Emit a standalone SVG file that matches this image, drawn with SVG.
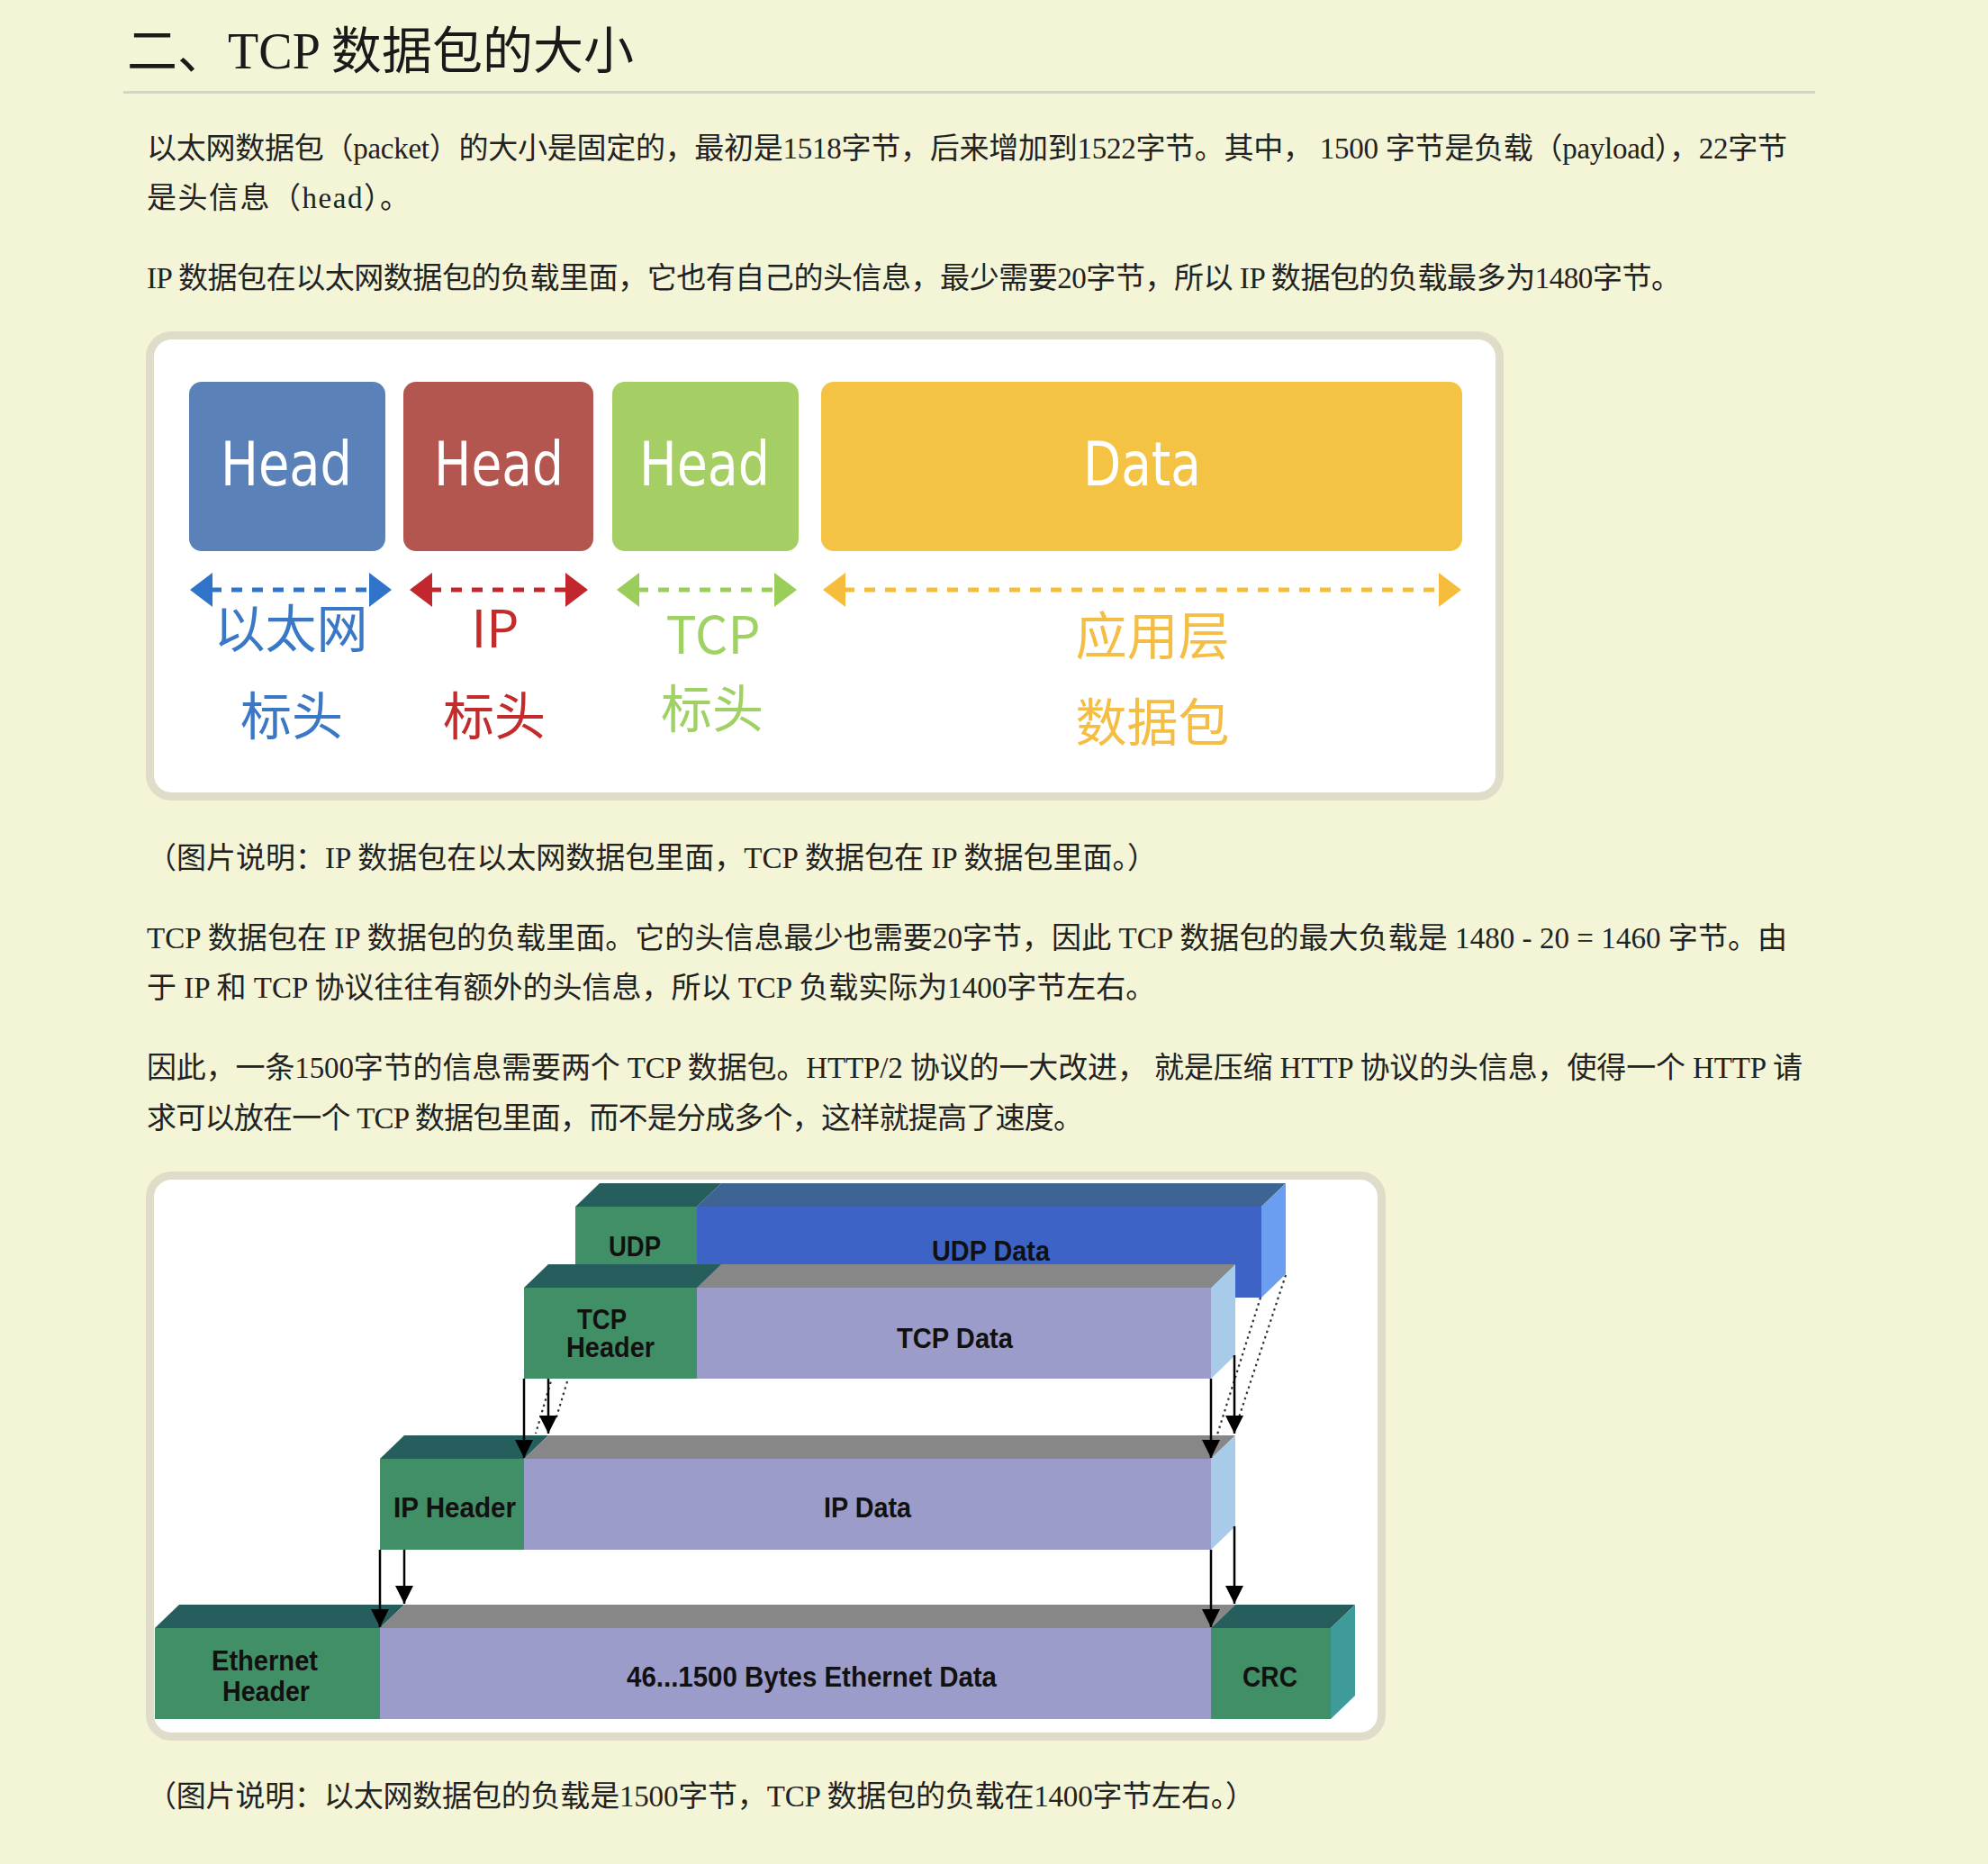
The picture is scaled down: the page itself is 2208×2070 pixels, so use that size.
<svg xmlns="http://www.w3.org/2000/svg" width="2208" height="2070" viewBox="0 0 2208 2070">
<defs>
<style>
.p{font-family:"Liberation Serif","Noto Sans CJK SC",serif;font-size:33px;fill:#222}
.title{font-family:"Liberation Serif","Noto Sans CJK SC",serif;font-size:56px;fill:#1a1a1a}
.hd{font-family:"DejaVu Sans",sans-serif;font-size:68px;fill:#ffffff}
.lb{font-family:"Noto Sans CJK SC",sans-serif;font-size:57px;text-anchor:middle}
.d2{font-family:"Liberation Sans",Arial,sans-serif;font-weight:bold;font-size:31px;fill:#111}
.frame{fill:#ffffff;stroke:#dfddc9;stroke-width:9}
.teal{fill:#265e5e}
.gray{fill:#878787}
.grn{fill:#418f66}
.lav{fill:#9c9ccb}
.side{fill:#a9cbea}
.dot{stroke:#333;stroke-width:2.2;stroke-dasharray:2.5 4;fill:none}
.arr{stroke:#000;stroke-width:2.5;fill:none;marker-end:url(#ah)}
</style>
<marker id="ah" viewBox="0 0 20 20" refX="20" refY="10" markerWidth="20" markerHeight="20" markerUnits="userSpaceOnUse" orient="auto">
<path d="M0,0 L20,10 L0,20 z" fill="#000"/>
</marker>
</defs>
<rect x="0" y="0" width="2208" height="2070" fill="#f4f5d7"/>

<g id="page-text">
<text class="title" x="141" y="76" textLength="563" lengthAdjust="spacing">二、TCP 数据包的大小</text>
<rect x="137" y="101" width="1879" height="3" fill="#d3d3cf"/>
<text class="p" x="163" y="176" textLength="1822" lengthAdjust="spacing">以太网数据包（packet）的大小是固定的，最初是1518字节，后来增加到1522字节。其中， 1500 字节是负载（payload），22字节</text>
<text class="p" x="163" y="231" textLength="292" lengthAdjust="spacing">是头信息（head）。</text>
<text class="p" x="163" y="320" textLength="1704" lengthAdjust="spacing">IP 数据包在以太网数据包的负载里面，它也有自己的头信息，最少需要20字节，所以 IP 数据包的负载最多为1480字节。</text>
<text class="p" x="163" y="964">（图片说明：IP 数据包在以太网数据包里面，TCP 数据包在 IP 数据包里面。）</text>
<text class="p" x="163" y="1053" textLength="1822" lengthAdjust="spacing">TCP 数据包在 IP 数据包的负载里面。它的头信息最少也需要20字节，因此 TCP 数据包的最大负载是 1480 - 20 = 1460 字节。由</text>
<text class="p" x="163" y="1108">于 IP 和 TCP 协议往往有额外的头信息，所以 TCP 负载实际为1400字节左右。</text>
<text class="p" x="163" y="1197" textLength="1839" lengthAdjust="spacing">因此，一条1500字节的信息需要两个 TCP 数据包。HTTP/2 协议的一大改进， 就是压缩 HTTP 协议的头信息，使得一个 HTTP 请</text>
<text class="p" x="163" y="1253" textLength="1040" lengthAdjust="spacing">求可以放在一个 TCP 数据包里面，而不是分成多个，这样就提高了速度。</text>
<text class="p" x="163" y="2006" textLength="1231" lengthAdjust="spacing">（图片说明：以太网数据包的负载是1500字节，TCP 数据包的负载在1400字节左右。）</text>
</g>

<g id="figure1">
<rect class="frame" x="166.5" y="372.5" width="1499" height="512" rx="24"/>
<g id="eth-head">
<rect x="210" y="424" width="218" height="188" rx="14" fill="#5a82b9"/>
<text class="hd" x="245" y="539" textLength="146" lengthAdjust="spacingAndGlyphs">Head</text>
</g>
<g id="ip-head">
<rect x="448" y="424" width="211" height="188" rx="14" fill="#b35650"/>
<text class="hd" x="482" y="539" textLength="144" lengthAdjust="spacingAndGlyphs">Head</text>
</g>
<g id="tcp-head">
<rect x="680" y="424" width="207" height="188" rx="14" fill="#a5ce64"/>
<text class="hd" x="710" y="539" textLength="145" lengthAdjust="spacingAndGlyphs">Head</text>
</g>
<g id="app-data">
<rect x="912" y="424" width="712" height="188" rx="14" fill="#f5c344"/>
<text class="hd" x="1203" y="539" textLength="131" lengthAdjust="spacingAndGlyphs">Data</text>
</g>
<g id="span-eth">
<line x1="234" y1="655" x2="412" y2="655" stroke="#2f74c8" stroke-width="5" stroke-dasharray="12 11"/>
<polygon points="211,655 236,636 236,674" fill="#2f74c8"/>
<polygon points="435,655 410,636 410,674" fill="#2f74c8"/>
<text class="lb" x="323" y="719" fill="#3a78c6">以太网</text>
<text class="lb" x="324" y="816" fill="#3a78c6">标头</text>
</g>
<g id="span-ip">
<line x1="478" y1="655" x2="630" y2="655" stroke="#c1272d" stroke-width="5" stroke-dasharray="12 11"/>
<polygon points="455,655 480,636 480,674" fill="#c1272d"/>
<polygon points="653,655 628,636 628,674" fill="#c1272d"/>
<text class="lb" x="550" y="719" fill="#c32c2c">IP</text>
<text class="lb" x="549" y="816" fill="#c32c2c">标头</text>
</g>
<g id="span-tcp">
<line x1="708" y1="655" x2="862" y2="655" stroke="#9acd5a" stroke-width="5" stroke-dasharray="12 11"/>
<polygon points="685,655 710,636 710,674" fill="#9acd5a"/>
<polygon points="885,655 860,636 860,674" fill="#9acd5a"/>
<text class="lb" x="792" y="726" fill="#9fd165">TCP</text>
<text class="lb" x="791" y="808" fill="#9fd165">标头</text>
</g>
<g id="span-app">
<line x1="937" y1="655" x2="1600" y2="655" stroke="#f5bd3b" stroke-width="5" stroke-dasharray="12 11"/>
<polygon points="914,655 939,636 939,674" fill="#f5bd3b"/>
<polygon points="1623,655 1598,636 1598,674" fill="#f5bd3b"/>
<text class="lb" x="1280" y="727" fill="#f4bd44">应用层</text>
<text class="lb" x="1280" y="823" fill="#f4bd44">数据包</text>
</g>
</g>

<g id="figure2">
<rect class="frame" x="166.5" y="1305.5" width="1368" height="623" rx="24"/>

<g id="udp-layer">
<polygon class="teal" points="639,1340 774,1340 801,1314 666,1314"/>
<polygon points="774,1340 1401,1340 1428,1314 801,1314" fill="#3e6494"/>
<rect class="grn" x="639" y="1340" width="135" height="101"/>
<rect x="774" y="1340" width="627" height="101" fill="#3d63c6"/>
<polygon points="1401,1340 1428,1314 1428,1415 1401,1441" fill="#6b9df0"/>
<text class="d2" x="676" y="1395" textLength="58" lengthAdjust="spacingAndGlyphs">UDP</text>
<text class="d2" x="1035" y="1400" textLength="131" lengthAdjust="spacingAndGlyphs">UDP Data</text>
</g>

<g id="dotted-connectors">
<line class="dot" x1="639" y1="1441" x2="595" y2="1592"/>
<line class="dot" x1="666" y1="1416" x2="617" y2="1577"/>
<line class="dot" x1="1400" y1="1441" x2="1352" y2="1593"/>
<line class="dot" x1="1428" y1="1416" x2="1375" y2="1577"/>
</g>

<g id="tcp-layer">
<polygon class="teal" points="582,1430 774,1430 801,1404 609,1404"/>
<polygon class="gray" points="774,1430 1345,1430 1372,1404 801,1404"/>
<rect class="grn" x="582" y="1430" width="192" height="101"/>
<rect class="lav" x="774" y="1430" width="571" height="101"/>
<polygon class="side" points="1345,1430 1372,1404 1372,1505 1345,1531"/>
<text class="d2" x="641" y="1476" textLength="55" lengthAdjust="spacingAndGlyphs">TCP</text>
<text class="d2" x="629" y="1507" textLength="98" lengthAdjust="spacingAndGlyphs">Header</text>
<text class="d2" x="996" y="1497" textLength="129" lengthAdjust="spacingAndGlyphs">TCP Data</text>
</g>

<g id="ip-layer">
<polygon class="teal" points="422,1620 582,1620 609,1594 449,1594"/>
<polygon class="gray" points="582,1620 1345,1620 1372,1594 609,1594"/>
<rect class="grn" x="422" y="1620" width="160" height="101"/>
<rect class="lav" x="582" y="1620" width="763" height="101"/>
<polygon class="side" points="1345,1620 1372,1594 1372,1695 1345,1721"/>
<text class="d2" x="437" y="1685" textLength="136" lengthAdjust="spacingAndGlyphs">IP Header</text>
<text class="d2" x="915" y="1685" textLength="97" lengthAdjust="spacingAndGlyphs">IP Data</text>
</g>

<g id="ethernet-layer">
<polygon class="teal" points="172,1808 422,1808 449,1782 199,1782"/>
<polygon class="gray" points="422,1808 1345,1808 1372,1782 449,1782"/>
<polygon class="teal" points="1345,1808 1478,1808 1505,1782 1372,1782"/>
<rect class="grn" x="172" y="1808" width="250" height="101"/>
<rect class="lav" x="422" y="1808" width="923" height="101"/>
<rect class="grn" x="1345" y="1808" width="133" height="101"/>
<polygon points="1478,1808 1505,1782 1505,1883 1478,1909" fill="#3f9a9a"/>
<text class="d2" x="235" y="1855" textLength="118" lengthAdjust="spacingAndGlyphs">Ethernet</text>
<text class="d2" x="247" y="1889" textLength="97" lengthAdjust="spacingAndGlyphs">Header</text>
<text class="d2" x="696" y="1873" textLength="411" lengthAdjust="spacingAndGlyphs">46...1500 Bytes Ethernet Data</text>
<text class="d2" x="1380" y="1873" textLength="61" lengthAdjust="spacingAndGlyphs">CRC</text>
</g>

<g id="connectors">
<line class="arr" x1="582" y1="1531" x2="582" y2="1619"/>
<line class="arr" x1="609" y1="1531" x2="609" y2="1592"/>
<line class="arr" x1="1345" y1="1531" x2="1345" y2="1619"/>
<line class="arr" x1="1371" y1="1505" x2="1371" y2="1592"/>
<line class="arr" x1="422" y1="1721" x2="422" y2="1807"/>
<line class="arr" x1="449" y1="1721" x2="449" y2="1781"/>
<line class="arr" x1="1345" y1="1721" x2="1345" y2="1807"/>
<line class="arr" x1="1371" y1="1695" x2="1371" y2="1781"/>
</g>
</g>
</svg>
